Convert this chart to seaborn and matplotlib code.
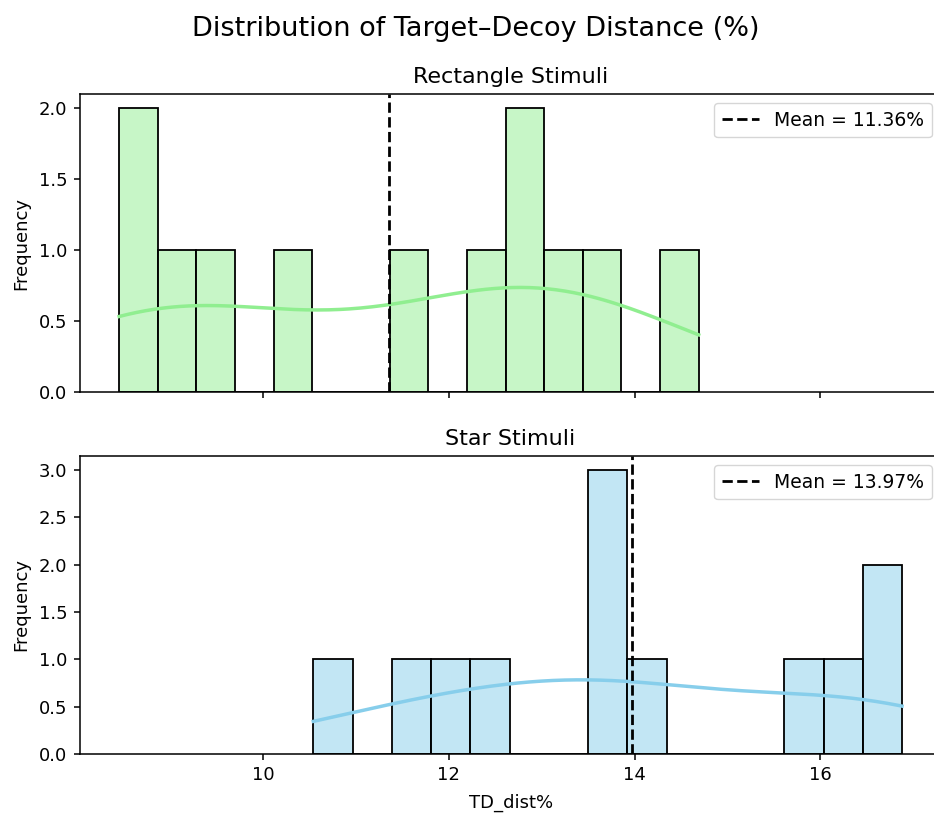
import numpy as np
import pandas as pd
import matplotlib
matplotlib.use("Agg")
import matplotlib.pyplot as plt
from matplotlib.ticker import MultipleLocator
import seaborn as sns

# Target–decoy distances (%) per stimulus type
rect_td = [8.45, 8.55, 8.95, 9.35, 10.2, 11.42, 12.3, 12.75, 12.9, 13.2, 13.56, 14.69]
star_td = [10.54, 11.7, 12.1, 12.45, 13.65, 13.72, 13.8, 14.2, 15.8, 16.2, 16.6, 16.88]

panels = [
    ("Rectangle Stimuli", rect_td, "lightgreen"),
    ("Star Stimuli", star_td, "skyblue"),
]

plt.rcParams.update({
    "axes.linewidth": 1.1,
    "xtick.major.width": 1.1,
    "ytick.major.width": 1.1,
    "xtick.major.size": 4.5,
    "ytick.major.size": 4.5,
})

fig = plt.figure(figsize=(9.34, 8.13), dpi=100)
ax_top = fig.add_axes([0.0857, 0.5178, 0.922, 0.3666])
ax_bot = fig.add_axes([0.0857, 0.0726, 0.922, 0.3666], sharex=ax_top)
axes = [ax_top, ax_bot]

for ax, (title, values, color) in zip(axes, panels):
    df = pd.DataFrame({"TD_dist%": values})
    sns.histplot(data=df, x="TD_dist%", bins=15, kde=True, color=color,
                 edgecolor="black", alpha=0.5, linewidth=1.3, ax=ax,
                 line_kws={"linewidth": 2.5})
    mean_val = float(np.mean(values))
    ax.axvline(mean_val, color="black", linestyle="--", linewidth=2,
               label=f"Mean = {mean_val:.2f}%")
    ax.set_title(title, fontsize=16, pad=8)
    ax.set_ylabel("Frequency", fontsize=13, labelpad=6)
    ax.yaxis.set_major_locator(MultipleLocator(0.5))
    ax.tick_params(labelsize=13, pad=4.5)
    ax.legend(loc="upper right", fontsize=13.5, borderaxespad=0.5,
              handlelength=2.0)

ax_top.set_xlabel("")
plt.setp(ax_top.get_xticklabels(), visible=False)
ax_bot.set_xlabel("TD_dist%", fontsize=13, labelpad=7)

fig.suptitle("Distribution of Target–Decoy Distance (%)", fontsize=19.5,
             x=0.5096, y=0.98)

fig.savefig("out.png", dpi=100)
